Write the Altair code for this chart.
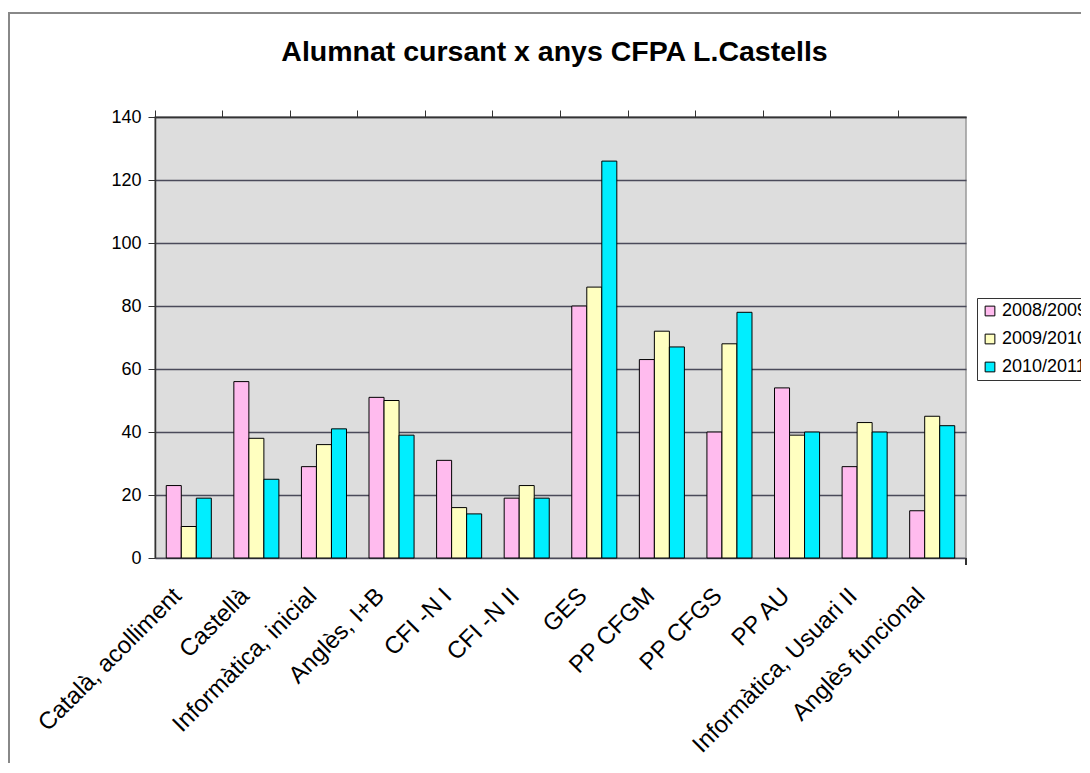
import altair as alt
import pandas as pd

categories = ["Català, acolliment", "Castellà", "Informàtica, inicial", "Anglès, I+B",
              "CFI -N I", "CFI -N II", "GES", "PP CFGM", "PP CFGS", "PP AU",
              "Informàtica, Usuari II", "Anglès funcional"]
series = ["2008/2009", "2009/2010", "2010/2011"]
v2008 = [23, 56, 29, 51, 31, 19, 80, 63, 40, 54, 29, 15]
v2009 = [10, 38, 36, 50, 16, 23, 86, 72, 68, 39, 43, 45]
v2010 = [19, 25, 41, 39, 14, 19, 126, 67, 78, 40, 40, 42]
colors = ["#FFBBEE", "#FFFFC0", "#00EEFF"]

rows = []
for i, c in enumerate(categories):
    for s, vals in zip(series, [v2008, v2009, v2010]):
        rows.append({"cat": c, "serie": s, "val": vals[i]})
df = pd.DataFrame(rows)

W, H = 811, 441
PL, PT, PR, PB = 147, 109, 115, 205

xscale = alt.Scale(paddingInner=0, paddingOuter=0)

bars = alt.Chart(df).mark_bar(stroke="#000000", strokeWidth=1).encode(
    x=alt.X("cat:N", sort=categories, scale=xscale, title=None,
            axis=alt.Axis(labelAngle=-45, labelAlign="right", labelBaseline="middle",
                          labelFont="Liberation Sans", labelFontSize=24, labelFontWeight="normal",
                          labelColor="#000000", labelPadding=34, labelOffset=-11,
                          ticks=False, domain=False, labelLimit=400)),
    xOffset=alt.XOffset("serie:N", sort=series,
                        scale=alt.Scale(paddingInner=0, paddingOuter=0.75)),
    y=alt.Y("val:Q", scale=alt.Scale(domain=[0, 140], nice=False), title=None,
            axis=alt.Axis(values=list(range(0, 141, 20)), labelFont="Liberation Sans",
                          labelFontSize=18, labelColor="#000000", labelPadding=7,
                          tickColor="#333333", tickSize=7, domainColor="#333333",
                          domainWidth=1.5, grid=True, gridColor="#4a4a5a", gridWidth=1.5)),
    color=alt.Color("serie:N", sort=series,
                    scale=alt.Scale(domain=series, range=colors),
                    legend=alt.Legend(title=None, orient="none", legendX=822, legendY=181,
                                      symbolType="square", symbolSize=95,
                                      symbolStrokeColor="#000000", symbolStrokeWidth=1,
                                      labelFont="Liberation Sans", labelFontSize=18,
                                      labelColor="#000000", rowPadding=10,
                                      fillColor="#FFFFFF", strokeColor="#333333",
                                      padding=4, labelOffset=3)),
)

tick_layer = alt.Chart(df).mark_point(opacity=0).encode(
    x=alt.X("cat:N", sort=categories, scale=xscale, title=None,
            axis=alt.Axis(labels=False, ticks=True, bandPosition=0, tickSize=7,
                          tickColor="#333333", domainColor="#333333", domainWidth=1.5)),
    y=alt.Y("val:Q"),
)

end_tick = alt.Chart(df).mark_rule(color="#333333", strokeWidth=1).encode(
    x=alt.value(W), y=alt.value(H), y2=alt.value(H + 7)
)

border = alt.Chart(df).mark_rect(fillOpacity=0, stroke="#888888", strokeWidth=1.5).encode(
    x=alt.value(-PL + 1), y=alt.value(-PT + 5), x2=alt.value(W + 400), y2=alt.value(H + 400)
)

chart = alt.layer(border, bars, tick_layer, end_tick).resolve_axis(x="independent").properties(
    width=W, height=H,
    padding={"left": PL, "top": PT, "right": PR, "bottom": PB},
    autosize=alt.AutoSizeParams(type="none"),
    background="#FFFFFF",
    title=alt.TitleParams("Alumnat cursant x anys CFPA L.Castells", font="Liberation Sans",
                          fontSize=28.5, fontWeight="bold", color="#000000", offset=-77,
                          baseline="alphabetic", anchor="middle", dx=-6),
).configure_view(fill="#DDDDDD", stroke="#999999", strokeWidth=1.5)

chart.save("out.html", embed_options={"renderer": "svg", "actions": False})
